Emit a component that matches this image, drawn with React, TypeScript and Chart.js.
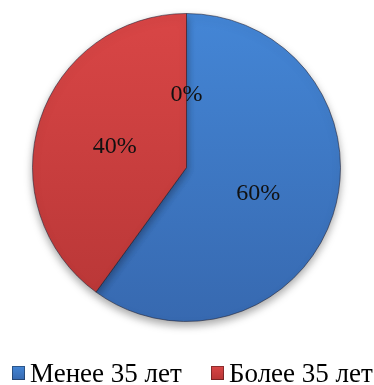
import React, { useEffect, useRef } from "react";
import { Chart, registerables } from "chart.js";

Chart.register(...registerables);

const categories: string[] = ["Менее 35 лет", "Более 35 лет", ""];
const values: number[] = [60, 40, 0];
const topColors: string[] = ["#4486d6", "#d94646", "#9bbb59"];
const bottomColors: string[] = ["#3769b0", "#b73636", "#7f9a48"];

const FONT = "'Liberation Serif', 'Times New Roman', serif";

const shadowPlugin = {
  id: "pieShadow",
  beforeDatasetsDraw(chart: any) {
    const ctx = chart.ctx;
    ctx.save();
    ctx.shadowColor = "rgba(0,0,0,0.35)";
    ctx.shadowBlur = 8;
    ctx.shadowOffsetY = 4;
  },
  afterDatasetsDraw(chart: any) {
    chart.ctx.restore();
  },
};

const labelPlugin = {
  id: "sliceLabels",
  afterDatasetsDraw(chart: any) {
    const ctx = chart.ctx;
    const meta = chart.getDatasetMeta(0);
    const data = chart.data.datasets[0].data as number[];
    const total = data.reduce((a, b) => a + b, 0);
    ctx.save();
    ctx.font = `24px ${FONT}`;
    ctx.fillStyle = "#111";
    ctx.textAlign = "center";
    ctx.textBaseline = "middle";
    meta.data.forEach((arc: any, i: number) => {
      const { x, y, startAngle, endAngle, outerRadius } = arc.getProps(
        ["x", "y", "startAngle", "endAngle", "outerRadius"],
        true
      );
      const mid = (startAngle + endAngle) / 2;
      const r = outerRadius * 0.49;
      const pct = Math.round((data[i] / total) * 100) + "%";
      ctx.fillText(pct, x + Math.cos(mid) * r, y + Math.sin(mid) * r + 3);
    });
    ctx.restore();
  },
};

const legendPlugin = {
  id: "customLegend",
  afterDraw(chart: any) {
    const ctx = chart.ctx;
    const labels = chart.data.labels as string[];
    const xs = [12, 211];
    ctx.save();
    ctx.font = `27px ${FONT}`;
    ctx.textBaseline = "alphabetic";
    ctx.textAlign = "left";
    labels.forEach((lab, i) => {
      if (!lab) return;
      const bx = xs[i];
      const by = 366;
      const g = ctx.createLinearGradient(0, by, 0, by + 14);
      g.addColorStop(0, topColors[i]);
      g.addColorStop(1, bottomColors[i]);
      ctx.fillStyle = g;
      ctx.fillRect(bx, by, 13, 14);
      ctx.strokeStyle = "rgba(0,0,0,0.35)";
      ctx.lineWidth = 1;
      ctx.strokeRect(bx + 0.5, by + 0.5, 12, 13);
      ctx.fillStyle = "#000";
      ctx.fillText(lab, bx + 18, 382);
    });
    ctx.restore();
  },
};

export default function App() {
  const ref = useRef<HTMLCanvasElement | null>(null);
  useEffect(() => {
    if (!ref.current) return;
    const chart = new Chart(ref.current, {
      type: "pie",
      data: {
        labels: categories,
        datasets: [
          {
            data: values,
            backgroundColor: (c: any) => {
              const area = c.chart.chartArea;
              const i = c.dataIndex ?? 0;
              if (!area) return topColors[i];
              const g = c.chart.ctx.createLinearGradient(0, area.top, 0, area.bottom);
              g.addColorStop(0, topColors[i]);
              g.addColorStop(1, bottomColors[i]);
              return g;
            },
            borderColor: "rgba(30,30,50,0.55)",
            borderWidth: 1,
          },
        ],
      },
      options: {
        responsive: false,
        animation: false,
        layout: { padding: { top: 13, bottom: 63, left: 0, right: 1 } },
        plugins: {
          legend: { display: false },
          tooltip: { enabled: false },
        },
      },
      plugins: [shadowPlugin, labelPlugin, legendPlugin],
    });
    return () => chart.destroy();
  }, []);
  return (
    <div style={{ position: "fixed", left: 0, top: 0, width: 374, height: 385, background: "#fff" }}>
      <canvas ref={ref} width={374} height={385} style={{ width: 374, height: 385 }} />
    </div>
  );
}
